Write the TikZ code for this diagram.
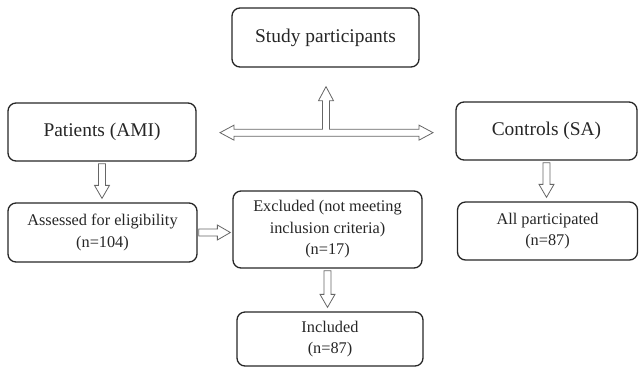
\documentclass[tikz,border=0pt]{standalone}
\usepackage{fontspec}
\newfontfamily\tms{Liberation Serif}
\usetikzlibrary{calc}
\begin{document}
\begin{tikzpicture}[x=1pt,y=-1pt,
  box/.style={draw=black!85, line width=1.3pt, rounded corners=8pt, text=black!85, align=center, inner sep=0pt},
  big/.style={font=\tms\fontsize{19.4}{23}\selectfont},
  small/.style={font=\tms\fontsize{16.3}{21.5}\selectfont},
  arr/.style={draw=black!60, line width=0.8pt, fill=white, line join=miter}]
\path[use as bounding box] (0,0) rectangle (639,368);
% boxes
\node[box,big,minimum width=187pt,minimum height=59pt] (study) at (325.5,37.5) {Study participants};
\node[box,big,minimum width=188pt,minimum height=58pt] (pat) at (102,132) {Patients (AMI)};
\node[box,big,minimum width=181pt,minimum height=58pt] (ctl) at (546.5,131) {Controls (SA)};
\node[box,small,minimum width=189pt,minimum height=59pt] (ass) at (102.5,232.5) {Assessed for eligibility\\(n=104)};
\node[box,small,minimum width=189pt,minimum height=77pt] (exc) at (327.5,229.5) {Excluded (not meeting\\inclusion criteria)\\(n=17)};
\node[box,small,minimum width=180pt,minimum height=58pt] (all) at (547.5,231) {All participated\\(n=87)};
\node[box,small,minimum width=186pt,minimum height=54pt] (inc) at (330,339) {Included\\(n=87)};
% hub arrow
\coordinate (hub) at ($(study.south)+(0.5,65)$);
\draw[arr,shift={(hub)}] (-106,0) -- (-92,-7.5) -- (-92,-3.5) -- (-3.5,-3.5) -- (-3.5,-32) -- (-7.5,-32) -- (0,-46)
  -- (7.5,-32) -- (3.5,-32) -- (3.5,-3.5) -- (93,-3.5) -- (93,-7.5) -- (107,0) -- (93,7.5) -- (93,3.5)
  -- (-92,3.5) -- (-92,7.5) -- cycle;
% down arrows
\foreach \a/\b in {pat/ass, ctl/all, exc/inc}{
  \draw[arr] let \p1=(\a.south), \p2=(\b.north) in
    (\x1-3.5pt,\y1-2pt) -- (\x1-3.5pt,\y2+17pt) -- (\x1-7.5pt,\y2+17pt) -- (\x1,\y2+4pt)
    -- (\x1+7.5pt,\y2+17pt) -- (\x1+3.5pt,\y2+17pt) -- (\x1+3.5pt,\y1-2pt) -- cycle;
}
% right arrow
\draw[arr] let \p1=(ass.east), \p2=(exc.west) in
  (\x1+1pt,\y1+3.5pt) -- (\x2-15pt,\y1+3.5pt) -- (\x2-15pt,\y1+7.5pt) -- (\x2-2pt,\y1)
  -- (\x2-15pt,\y1-7.5pt) -- (\x2-15pt,\y1-3.5pt) -- (\x1+1pt,\y1-3.5pt) -- cycle;
\end{tikzpicture}
\end{document}
